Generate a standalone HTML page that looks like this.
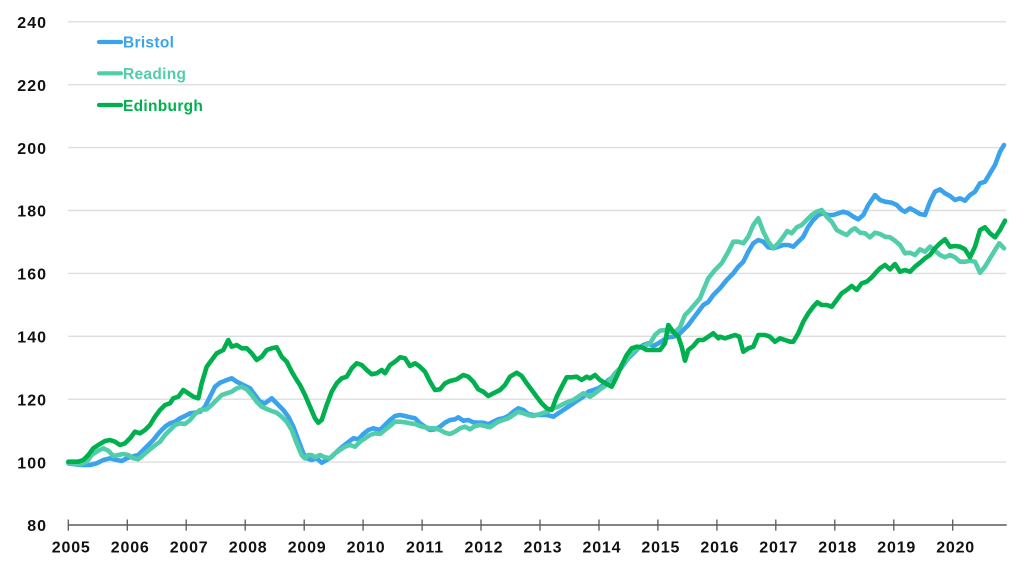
<!DOCTYPE html>
<html>
<head>
<meta charset="utf-8">
<style>
  html, body { margin: 0; padding: 0; background: #ffffff; }
  svg { display: block; }
  .yl { font-family: "Liberation Sans", sans-serif; font-weight: bold; font-size: 16px; fill: #111; letter-spacing: 1px; }
  .xl { font-family: "Liberation Sans", sans-serif; font-weight: bold; font-size: 16px; fill: #111; letter-spacing: 0.8px; }
  .lg { font-family: "Liberation Sans", sans-serif; font-weight: bold; font-size: 15.5px; letter-spacing: 0.3px; }
</style>
</head>
<body>
<svg width="1024" height="576" viewBox="0 0 1024 576" xmlns="http://www.w3.org/2000/svg">
  <rect width="1024" height="576" fill="#ffffff"/>
  <!-- gridlines -->
  <g stroke="#dedede" stroke-width="1.4">
    <line x1="68" y1="21.8" x2="1006" y2="21.8"/>
    <line x1="68" y1="84.7" x2="1006" y2="84.7"/>
    <line x1="68" y1="147.6" x2="1006" y2="147.6"/>
    <line x1="68" y1="210.5" x2="1006" y2="210.5"/>
    <line x1="68" y1="273.4" x2="1006" y2="273.4"/>
    <line x1="68" y1="336.3" x2="1006" y2="336.3"/>
    <line x1="68" y1="399.2" x2="1006" y2="399.2"/>
    <line x1="68" y1="462.1" x2="1006" y2="462.1"/>
  </g>
  <!-- y labels -->
  <g class="yl" text-anchor="end">
    <text x="47" y="28">240</text>
    <text x="47" y="91">220</text>
    <text x="47" y="154">200</text>
    <text x="47" y="216.7">180</text>
    <text x="47" y="279.6">160</text>
    <text x="47" y="342.5">140</text>
    <text x="47" y="405.4">120</text>
    <text x="47" y="468.3">100</text>
    <text x="47" y="531">80</text>
  </g>
  <!-- x axis -->
  <line x1="68" y1="525" x2="1006.7" y2="525" stroke="#5a5a5a" stroke-width="1.5"/>
  <g stroke="#5a5a5a" stroke-width="1.3">
    <line x1="68.3" y1="519.5" x2="68.3" y2="530.7"/>
    <line x1="127.3" y1="519.5" x2="127.3" y2="530.7"/>
    <line x1="186.2" y1="519.5" x2="186.2" y2="530.7"/>
    <line x1="245.2" y1="519.5" x2="245.2" y2="530.7"/>
    <line x1="304.2" y1="519.5" x2="304.2" y2="530.7"/>
    <line x1="363.1" y1="519.5" x2="363.1" y2="530.7"/>
    <line x1="422.1" y1="519.5" x2="422.1" y2="530.7"/>
    <line x1="481.0" y1="519.5" x2="481.0" y2="530.7"/>
    <line x1="540.0" y1="519.5" x2="540.0" y2="530.7"/>
    <line x1="599.0" y1="519.5" x2="599.0" y2="530.7"/>
    <line x1="657.9" y1="519.5" x2="657.9" y2="530.7"/>
    <line x1="716.9" y1="519.5" x2="716.9" y2="530.7"/>
    <line x1="775.8" y1="519.5" x2="775.8" y2="530.7"/>
    <line x1="834.8" y1="519.5" x2="834.8" y2="530.7"/>
    <line x1="893.8" y1="519.5" x2="893.8" y2="530.7"/>
    <line x1="952.7" y1="519.5" x2="952.7" y2="530.7"/>
  </g>
  <g class="xl" text-anchor="middle">
    <text x="71.2" y="552.5">2005</text>
    <text x="130.2" y="552.5">2006</text>
    <text x="189.1" y="552.5">2007</text>
    <text x="248.1" y="552.5">2008</text>
    <text x="307.1" y="552.5">2009</text>
    <text x="366.0" y="552.5">2010</text>
    <text x="425.0" y="552.5">2011</text>
    <text x="483.9" y="552.5">2012</text>
    <text x="542.9" y="552.5">2013</text>
    <text x="601.9" y="552.5">2014</text>
    <text x="660.8" y="552.5">2015</text>
    <text x="719.8" y="552.5">2016</text>
    <text x="778.7" y="552.5">2017</text>
    <text x="837.7" y="552.5">2018</text>
    <text x="896.7" y="552.5">2019</text>
    <text x="955.6" y="552.5">2020</text>
  </g>

  <g fill="none" stroke-width="4.6" stroke-linejoin="round" stroke-linecap="round">
    <!-- Bristol -->
    <polyline stroke="#3ba3ec" points="68.3,463.3 80,465 90,465 96.7,463.3 103.3,460 110,458.3 116.7,460 121.7,461 126.7,458.3 131.7,456.7 138.3,455 143.3,450 148.3,445 153.3,440 160,431.7 165,426.7 170,423.3 175,421.7 180,418.3 185,416 190,413.3 195,412.7 200,411.7 205,406.7 210,396.7 215,386.7 220,382.7 225,380.7 231.7,378.3 236.7,381.7 243.3,385 250,388.3 255,395 260,401.7 265,403.3 271.7,398.3 276.7,403.3 283.3,410 288.3,416.7 293.3,426.7 298.3,440 303.3,453.3 306.7,458.3 311.7,460 316.7,458.3 321.7,462.7 326.7,460 331.7,456.7 336.7,451.7 341.7,447.3 346.7,443.3 353.3,438.3 358.3,439.3 363.3,434 368.3,430 373.3,428.3 380,430 385,425 390,420 395,416 400,415 405,416 410,417.3 415,418.3 420,423.3 425,426.7 430,430 435,429.3 440,426.7 445,422.7 450,420 455,419.3 458.3,417.3 463.3,420.7 468.3,420 473.3,422.3 478.3,422.7 483.3,422.7 488.3,424.3 493.3,421.7 498.3,419.3 503.3,418.3 508.3,416 513.3,411.7 518.3,408.3 523.3,410 528.3,414 533.3,415 540,415 546.7,415 553.3,416.7 558.3,413.3 563.3,410 568.3,406.7 573.3,403.3 578.3,400 583.3,396.7 588.3,391.7 593.3,390 598.3,388.3 603.3,385 608.3,380 613.3,376.7 618.3,371.7 623.3,365 628.3,358.3 633.3,353.3 638.3,348.3 643.3,345 648.3,343.3 653.3,346 658.3,343.3 663.3,340 668.3,337.3 673.3,336.7 678.3,335 683.3,330 688.3,325 693.3,318.3 698.3,311.7 703.3,305 708.3,302 713.3,295 720,288.3 726.7,280 733.3,273.3 738.3,266.7 743.3,261.7 748.3,251.7 753.3,243.3 758.3,240 763.3,241.7 768.3,247.3 773.3,248.3 778.3,246.7 783.3,245 788.3,245 793.3,246.7 798.3,241.7 803.3,236.7 808.3,226.7 813.3,220 818.3,215 823.3,213.3 828.3,215 833.3,215 838.3,213.3 843.3,211.7 848.3,213.3 853.3,216.7 858.3,219.3 863.3,215 868.3,205 875,195 880,200 885,201.7 891.7,202.7 896.7,205 901.7,210 905,211.7 910,208.3 915,211 920,214 925,215 930,201.7 935,191.7 940,189.3 945,193.3 950,196 955,200 960,198.3 965,200.7 970,195 975,191.7 980,183.3 985,181.7 990,173.3 995,165 1000,151.7 1004,145"/>
    <!-- Reading -->
    <polyline stroke="#52cdaa" points="68.3,462.7 80,464.3 86.7,461.7 91.7,455 98.3,450.7 103.3,448.3 108.3,450.7 113.3,456 118.3,455 123.3,454 128.3,455 133.3,458.3 138.3,459.3 143.3,455 148.3,450.7 153.3,446.7 160,441.7 165,435 170,430 175,425 180,423.3 185,424 190,420 195,414 200,410 206.7,409.3 211.7,405 216.7,400 221.7,395 226.7,393.3 231.7,391.7 236.7,388.3 241.7,386.7 246.7,389.3 251.7,395 256.7,401.7 261.7,406.7 266.7,409 271.7,411 276.7,412.7 281.7,416.7 286.7,421.7 291.7,430 296.7,443.3 301.7,455 305,458.5 308.3,455 311.7,455 315,457.3 320,455 325,457.3 330,458.3 335,453.3 340,450 345,446.7 350,445 355,446.7 360,441.7 365,438.3 370,435 375,433.3 380,434 385,430 390,426 395,421.7 400,421.7 405,422.3 410,423.3 415,424 420,426 425,427.3 430,428.3 435,428.3 440,430 445,432.7 450,434 455,431.7 460,428.3 465,426.7 470,429.3 475,426 480,425 485,426 490,427.3 493.3,425 498.3,421.7 503.3,420 508.3,418.3 513.3,415 518.3,411.7 523.3,413.3 528.3,415 533.3,416 540,414 546.7,411.7 553.3,408.3 558.3,406.7 563.3,404 568.3,401.7 573.3,400 578.3,396.7 583.3,393.3 590,396.7 595,393.3 600,389.3 605,386 610,380 615,373.3 620,368.3 625,361.7 630,355 635,350 640,347.3 645,346 650,343.3 655,335 660,330.7 665,330 670,331.7 675,331.7 680,327.3 685,315 690,310 695,304 700,298.3 703.3,290 708.3,278.3 715,270 721.7,263.3 728.3,251.7 733.3,241.7 738.3,241.7 743.3,243.3 748.3,236.7 753.3,225 758.3,218.3 763.3,231.7 768.3,241.7 773.3,248.3 778.3,243.3 783.3,236.7 787.3,231 791.7,233.3 796.7,227.3 801.7,225 806.7,220 811.7,215 816.7,211.7 821.7,210 826.7,216.7 831.7,221.7 836.7,230 841.7,232.7 846.7,235 851.7,230 855,228.3 860,232.7 865,233.3 870,237.3 875,232.7 880,234 885,236.7 890,237.3 895,240.7 900,245 905,253.3 910,252.7 915,255 920,249.3 925,251.7 930,246.7 935,250.7 940,255 945,257.3 950,255 955,257.3 960,261.7 965,261.7 970,260.7 975,261.7 980,272.7 985,266.7 990,258.3 995,250 999.3,243.3 1004,248.3"/>
    <!-- Edinburgh -->
    <polyline stroke="#00b04f" points="68.3,461.7 78.3,461.7 83.3,460 88.3,455 93.3,448.3 98.3,445 105,441 110,440 115,441.7 120,445 125,443.3 130,438.3 135,431.7 140,433.3 145,430 150,425 155,416.7 160,410 165,405 170,403.3 173.3,398.3 178.3,396.7 183.3,390 188.3,393.3 193.3,396.7 198.3,398.3 201.7,383.3 206.7,366.7 211.7,360 216.7,353.3 223.3,350 228.3,340 231.7,346.7 236.7,345 241.7,348.3 246.7,348.3 251.7,353.3 256.7,360 261.7,356.7 266.7,350 271.7,348.3 276.7,347.3 281.7,356.7 286.7,361.7 291.7,371.7 296.7,380 300,385 305,395 310,406.7 315,418.3 318.3,422.7 321.7,420 326.7,405 331.7,391.7 336.7,383.3 341.7,378.3 346.7,376.7 351.7,368.3 356.7,363.3 361.7,365 366.7,370 371.7,374.3 376.7,373.3 381.7,370 385,373.3 390,365 395,361.7 400,357.3 405,358.3 410,366 415,363.3 420,366.7 425,371.7 430,381.7 435,390 440,389.3 445,383.3 450,381 456.7,379.3 463.3,375 468.3,376.7 473.3,381.7 478.3,389.3 483.3,391.7 488.3,396 493.3,393.3 500,390 505,385 510,376.7 516.7,372.7 521.7,376 526.7,383.3 531.7,390 536.7,396.7 541.7,403.3 546.7,408.3 551.7,410 556.7,396.7 561.7,386.7 566.7,377.3 571.7,377.3 576.7,376.7 581.7,380 586.7,376.7 590,378.3 595,375 600,380 606.7,384 611.7,386.7 616.7,376.7 621.7,365 626.7,355 631.7,348.3 636.7,346.7 641.7,347.3 646.7,350 653.3,350 660,350 665,343.3 668.3,325 673.3,331.7 678.3,336.7 681.7,346.7 685,360.7 688.3,350 693.3,346 698.3,340 703.3,340 708.3,336.7 713.3,333.3 718.3,338.3 720,336.7 725,338.3 730,336.7 735,335 739.3,336.7 743.3,351.7 748.3,348.3 753.3,346.7 758.3,335 765,335 770,336.7 775,341.7 780,338.3 785,340 790,341.7 793.3,341.7 798.3,333.3 803.3,321.7 808.3,313.3 813.3,306.7 817.3,302.3 821.7,305 826.7,305 831.7,306.7 836.7,300 841.7,293.3 846.7,290 851.7,286 856.7,290 861.7,283.3 866.7,281.7 871.7,277.3 876.7,271.7 880,268.3 885,265 890,269.3 895,264 900,271.7 905,270 910,271.7 915,266.7 920,262.7 925,258.3 930,255 935,248.3 940,243.3 945,239.3 950,246.7 955,246 960,246.7 965,249.3 970,257.3 975,246.7 980,230 985,227.3 990,233.3 995,237.3 1000,230 1005,220.7"/>
  </g>

  <!-- legend -->
  <g stroke-width="4.2" stroke-linecap="round">
    <line x1="99" y1="42" x2="121" y2="42" stroke="#3ba3ec"/>
    <line x1="99" y1="73.3" x2="121" y2="73.3" stroke="#52cdaa"/>
    <line x1="99" y1="105" x2="121" y2="105" stroke="#00b04f"/>
  </g>
  <text class="lg" x="123" y="47.7" fill="#3ba3ec">Bristol</text>
  <text class="lg" x="123" y="79.2" fill="#52cdaa">Reading</text>
  <text class="lg" x="123" y="110.8" fill="#00b04f">Edinburgh</text>
</svg>
</body>
</html>
